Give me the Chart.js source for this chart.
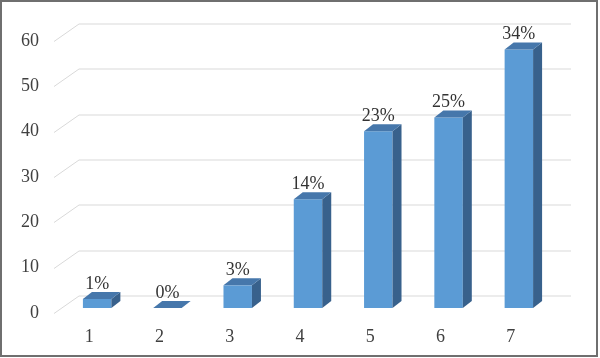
<!DOCTYPE html>
<html><head><meta charset="utf-8">
<script src="https://cdn.jsdelivr.net/npm/chart.js@4"></script>
<style>html,body{margin:0;padding:0;background:#fff}#wrap{width:600px;height:358px;position:relative}</style>
</head><body><div id="wrap"><canvas id="c" width="600" height="358"></canvas></div>
<script>
const categories = ['1', '2', '3', '4', '5', '6', '7'];
const values = [2, 0, 5, 24, 39, 42, 57];
const percentLabels = ['1%', '0%', '3%', '14%', '23%', '25%', '34%'];
const yMin = 0, yMax = 60, yStep = 10;

const FRONT = '#5b9bd5', TOP = '#4677ab', SIDE = '#38618c';
const WALL = {dx: 25, dy: -17.5};
const BARPOS = {dx: 8, dy: -5};
const DEPTH = {dx: 9, dy: -7};
const FONT = {family: '"Liberation Serif", "Times New Roman", serif', size: 18};

const threeD = {
  id: 'threeD',
  beforeDatasetsDraw(chart) {
    const {ctx, chartArea: a, scales: {y}} = chart;
    ctx.save();
    ctx.strokeStyle = '#d9d9d9';
    ctx.lineWidth = 1;
    y.ticks.forEach(t => {
      const py = Math.round(y.getPixelForValue(t.value)) + 0.5;
      ctx.beginPath();
      ctx.moveTo(a.left, py);
      ctx.lineTo(a.left + WALL.dx, py + WALL.dy);
      ctx.lineTo(a.right + WALL.dx, py + WALL.dy);
      ctx.stroke();
    });
    ctx.restore();
    ctx.save();
    ctx.translate(BARPOS.dx, BARPOS.dy);
  },
  afterDatasetsDraw(chart) {
    const {ctx} = chart;
    const meta = chart.getDatasetMeta(0);
    meta.data.forEach((bar, i) => {
      const {x, y, base, width} = bar.getProps(['x', 'y', 'base', 'width'], true);
      const l = x - width / 2, r = x + width / 2;
      ctx.fillStyle = SIDE;
      ctx.beginPath();
      ctx.moveTo(r, y); ctx.lineTo(r + DEPTH.dx, y + DEPTH.dy);
      ctx.lineTo(r + DEPTH.dx, base + DEPTH.dy); ctx.lineTo(r, base);
      ctx.closePath(); ctx.fill();
      ctx.fillStyle = TOP;
      ctx.beginPath();
      ctx.moveTo(l, y); ctx.lineTo(l + DEPTH.dx, y + DEPTH.dy);
      ctx.lineTo(r + DEPTH.dx, y + DEPTH.dy); ctx.lineTo(r, y);
      ctx.closePath(); ctx.fill();
      ctx.fillStyle = '#333333';
      ctx.font = FONT.size + 'px ' + FONT.family;
      ctx.textAlign = 'center';
      ctx.textBaseline = 'middle';
      ctx.fillText(percentLabels[i], x, y - 15);
    });
    ctx.restore();
  },
  afterDraw(chart) {
    const {ctx} = chart;
    ctx.save();
    ctx.strokeStyle = '#6f6f6f';
    ctx.lineWidth = 2;
    ctx.strokeRect(1, 1, 596, 355);
    ctx.restore();
  }
};

new Chart(document.getElementById('c'), {
  type: 'bar',
  data: {
    labels: categories,
    datasets: [{
      data: values,
      backgroundColor: FRONT,
      borderWidth: 0,
      barPercentage: 0.405,
      categoryPercentage: 1,
      clip: false
    }]
  },
  options: {
    responsive: false,
    animation: false,
    devicePixelRatio: 1,
    layout: {padding: {left: 0, right: 54, top: 41, bottom: 0}},
    plugins: {legend: {display: false}, tooltip: {enabled: false}},
    scales: {
      x: {
        grid: {display: false, drawTicks: false},
        border: {display: false},
        ticks: {color: '#404040', font: FONT, padding: 13},
        afterFit(s) { s.height = 45; }
      },
      y: {
        min: yMin, max: yMax,
        grid: {display: false, drawTicks: false},
        border: {display: false},
        ticks: {stepSize: yStep, color: '#404040', font: FONT, padding: 15},
        afterFit(s) { s.width = 54; }
      }
    }
  },
  plugins: [threeD]
});
</script>
</body></html>
